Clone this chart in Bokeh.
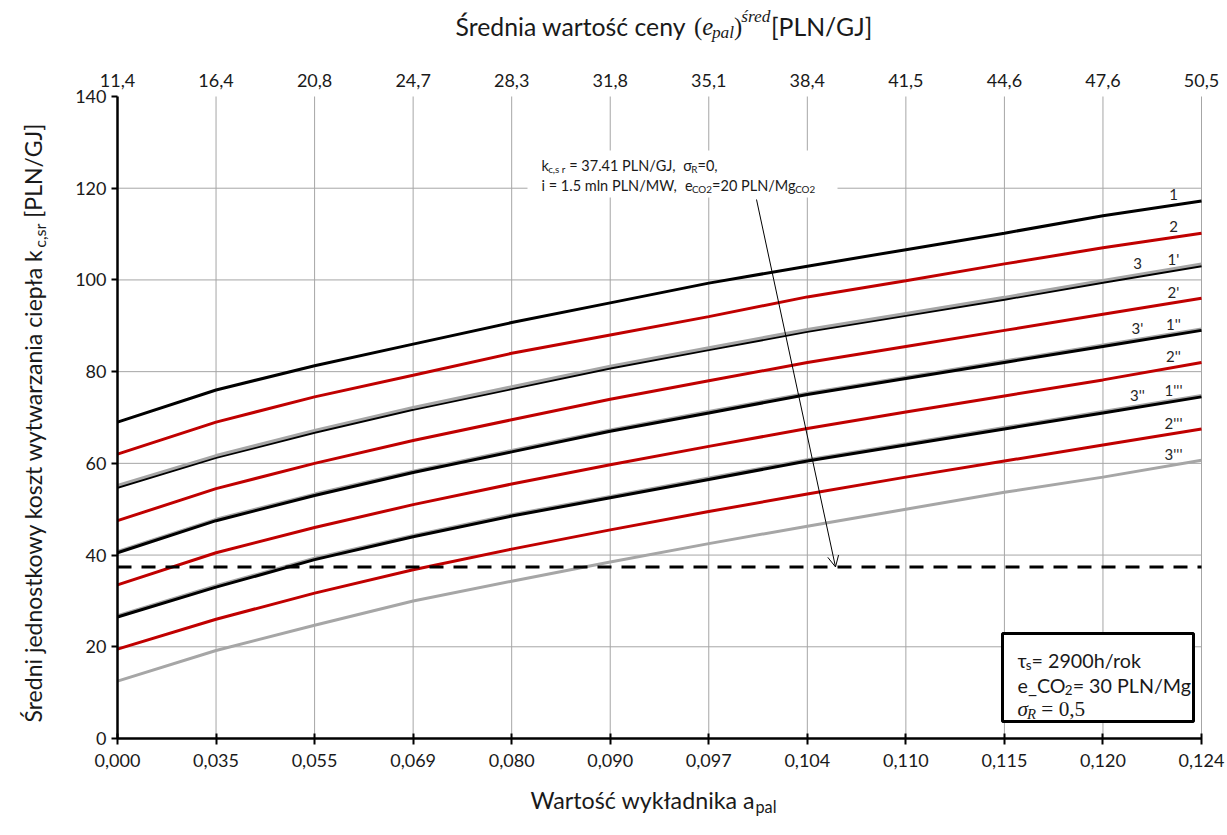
import math, os, struct, glob
from bokeh.plotting import figure
from bokeh.models import Range1d, LinearAxis, FixedTicker, Label, BoxAnnotation, Arrow, OpenHead
from bokeh.embed import file_html
from bokeh.resources import INLINE

# ---------------- data ----------------
a_pal_labels = ["0,000", "0,035", "0,055", "0,069", "0,080", "0,090",
                "0,097", "0,104", "0,110", "0,115", "0,120", "0,124"]
e_pal_labels = ["11,4", "16,4", "20,8", "24,7", "28,3", "31,8",
                "35,1", "38,4", "41,5", "44,6", "47,6", "50,5"]
y_ticks = [0, 20, 40, 60, 80, 100, 120, 140]

s1    = [69.0, 76.0, 81.3, 86.0, 90.7, 95.0, 99.3, 103.0, 106.6, 110.2, 114.0, 117.2]
s2    = [62.0, 69.0, 74.5, 79.2, 84.0, 88.0, 92.0, 96.3, 99.8, 103.5, 107.0, 110.2]
s3    = [55.2, 61.7, 67.2, 72.2, 76.7, 81.2, 85.2, 89.2, 92.7, 96.2, 99.9, 103.5]
s1p   = [54.8, 61.3, 66.8, 71.8, 76.3, 80.8, 84.8, 88.8, 92.3, 95.8, 99.5, 103.1]
s2p   = [47.5, 54.5, 60.0, 65.0, 69.5, 74.0, 78.0, 82.0, 85.5, 89.0, 92.5, 96.0]
s3p   = [40.8, 47.8, 53.3, 58.3, 62.8, 67.3, 71.3, 75.3, 78.8, 82.3, 85.8, 89.3]
s1pp  = [40.5, 47.5, 53.0, 58.0, 62.5, 67.0, 71.0, 75.0, 78.5, 82.0, 85.5, 89.0]
s2pp  = [33.5, 40.5, 46.0, 51.0, 55.5, 59.7, 63.7, 67.6, 71.2, 74.7, 78.2, 82.0]
s3pp  = [26.8, 33.3, 39.3, 44.3, 48.8, 52.8, 56.8, 60.8, 64.3, 67.8, 71.3, 74.8]
s1ppp = [26.5, 33.0, 39.0, 44.0, 48.5, 52.5, 56.5, 60.5, 64.0, 67.5, 71.0, 74.5]
s2ppp = [19.5, 26.0, 31.7, 36.8, 41.3, 45.5, 49.5, 53.3, 57.0, 60.5, 64.0, 67.5]
s3ppp = [12.5, 19.2, 24.7, 30.0, 34.3, 38.5, 42.5, 46.3, 50.0, 53.7, 57.0, 60.7]

k_ref = 37.41

BLACK, RED, GRAY = "#000000", "#c00000", "#a6a6a6"
# (label, values, colour, label column: "r" right, "l" left)
series = [
    ("1", s1, BLACK, "r"),
    ("2", s2, RED, "r"),
    ("1'", s1p, BLACK, "r"),
    ("3", s3, GRAY, "l"),
    ("2'", s2p, RED, "r"),
    ("3'", s3p, GRAY, "l"),
    ("1''", s1pp, BLACK, "r"),
    ("2''", s2pp, RED, "r"),
    ("3''", s3pp, GRAY, "l"),
    ("1'''", s1ppp, BLACK, "r"),
    ("2'''", s2ppp, RED, "r"),
    ("3'''", s3ppp, GRAY, "r"),
]

# ---------------- font metrics (for placing sub/superscripts) ----------------
FONT = "Lato"
SERIF = "Liberation Serif"
TXT = "#1a1a1a"

_files = {}
for d in ["/usr/share/fonts", "/usr/local/share/fonts",
          os.path.expanduser("~/.fonts"), os.path.expanduser("~/.local/share/fonts")]:
    for path in glob.glob(os.path.join(d, "**", "*"), recursive=True):
        b = os.path.basename(path).lower()
        if b.endswith((".ttf", ".otf")):
            _files.setdefault(b, path)

FONT_FILES = {
    ("Lato", "normal"): ["lato-regular.ttf"],
    ("Lato", "italic"): ["lato-italic.ttf"],
    ("Liberation Serif", "normal"): ["liberationserif-regular.ttf"],
    ("Liberation Serif", "italic"): ["liberationserif-italic.ttf"],
    ("DejaVu Sans", "normal"): ["dejavusans.ttf"],
}

class TTF:
    def __init__(self, path):
        self.d = d = open(path, "rb").read()
        nt = struct.unpack(">H", d[4:6])[0]
        t = {}
        for i in range(nt):
            tag, cs, off, ln = struct.unpack(">4sIII", d[12 + 16 * i:28 + 16 * i])
            t[tag.decode("latin1")] = off
        self.upem = struct.unpack(">H", d[t["head"] + 18:t["head"] + 20])[0]
        nhm = struct.unpack(">H", d[t["hhea"] + 34:t["hhea"] + 36])[0]
        hm = t["hmtx"]
        self.adv = [struct.unpack(">H", d[hm + 4 * i:hm + 4 * i + 2])[0] for i in range(nhm)]
        co = t["cmap"]
        n = struct.unpack(">H", d[co + 2:co + 4])[0]
        self.sub = None
        for i in range(n):
            pid, eid, off = struct.unpack(">HHI", d[co + 4 + 8 * i:co + 12 + 8 * i])
            fmt = struct.unpack(">H", d[co + off:co + off + 2])[0]
            if fmt == 4 and (pid == 0 or (pid == 3 and eid == 1)):
                self.sub = co + off
                break
        o = self.sub
        seg2 = struct.unpack(">H", d[o + 6:o + 8])[0]
        seg = seg2 // 2
        self.seg = seg
        self.ends = struct.unpack(f">{seg}H", d[o + 14:o + 14 + seg2])
        self.starts = struct.unpack(f">{seg}H", d[o + 16 + seg2:o + 16 + 2 * seg2])
        self.deltas = struct.unpack(f">{seg}h", d[o + 16 + 2 * seg2:o + 16 + 3 * seg2])
        self.rpos = o + 16 + 3 * seg2
        self.roffs = struct.unpack(f">{seg}H", d[self.rpos:self.rpos + seg2])

    def glyph(self, c):
        for s in range(self.seg):
            if self.ends[s] >= c:
                if self.starts[s] > c:
                    return 0
                if self.roffs[s] == 0:
                    return (c + self.deltas[s]) & 0xFFFF
                addr = self.rpos + 2 * s + self.roffs[s] + 2 * (c - self.starts[s])
                g = struct.unpack(">H", self.d[addr:addr + 2])[0]
                return (g + self.deltas[s]) & 0xFFFF if g else 0
        return 0

    def advance(self, ch):
        g = self.glyph(ord(ch))
        if g == 0:
            return None
        return self.adv[min(g, len(self.adv) - 1)] / self.upem

_cache = {}
def get_font(font, style):
    key = (font, style)
    if key not in _cache:
        f = None
        for name in FONT_FILES.get(key, []):
            if name in _files:
                try:
                    f = TTF(_files[name])
                except Exception:
                    f = None
                break
        _cache[key] = f
    return _cache[key]

def char_w(ch, font, style):
    for key in [(font, style), (font, "normal"), ("DejaVu Sans", "normal")]:
        f = get_font(*key)
        if f is not None:
            a = f.advance(ch)
            if a is not None:
                return a
    if ch == " ":
        return 0.25
    return 0.55

def measure(text, font, style, size):
    return sum(char_w(c, font, style) for c in text) * size

TIGHT = 0.05   # pull sub/superscripts slightly towards their base letter (em of base size)

def run(pieces, size):
    """pieces: (text, rel_size, drop_em, font, style) -> placed pieces, total width"""
    out, off = [], 0.0
    for t, rel, drop, font, style in pieces:
        s = size * rel
        if drop != 0:
            off -= TIGHT * size
        sp = measure(" ", font, style, s)
        lead = len(t) - len(t.lstrip(" "))
        trail = len(t) - len(t.rstrip(" "))
        core = t.strip(" ")
        off += lead * sp
        out.append((core, off, s, drop * size, font, style))
        off += measure(core, font, style, s) + trail * sp
    return out, off

def fit(pieces, width):
    _, w1 = run(pieces, 1.0)
    return width / w1

# ---------------- layout ----------------
W, H = 1227, 835
BL, BR, BT, BB = 117, 26, 96, 97          # data area inside the canvas
FW, FH = W - BL - BR, H - BT - BB
n = len(a_pal_labels)
xmax = n - 1
YMAX = y_ticks[-1]

def X(px):
    return (px - BL) / FW * xmax

def Y(py):
    return (H - BB - py) / FH * YMAX

p = figure(width=W, height=H, output_backend="svg", toolbar_location=None,
           x_range=Range1d(X(0), X(W)), y_range=Range1d(Y(H), Y(0)),
           x_axis_type=None, y_axis_type=None, min_border=0)
p.outline_line_color = None
p.background_fill_color = "white"
p.border_fill_color = "white"

xt = list(range(n))

# grid lines (from the tick arrays)
gy = [t for t in y_ticks if 0 < t < YMAX]
p.segment(x0=xt[1:], y0=[y_ticks[0]] * (n - 1), x1=xt[1:], y1=[YMAX] * (n - 1),
          line_color="#a6a6a6", line_width=1)
p.segment(x0=[xt[0]] * len(gy), y0=gy, x1=[xt[-1]] * len(gy), y1=gy,
          line_color="#a6a6a6", line_width=1)

def style_axis(ax):
    ax.axis_line_color = "black"
    ax.axis_line_width = 2.5
    ax.major_tick_line_color = "black"
    ax.major_tick_line_width = 2
    ax.minor_tick_line_color = None
    ax.major_label_text_font = FONT
    ax.major_label_text_font_size = "18px"
    ax.major_label_text_color = TXT

bottom = LinearAxis(fixed_location=y_ticks[0], bounds=(xt[0], xt[-1]),
                    ticker=FixedTicker(ticks=xt),
                    major_label_overrides={i: a_pal_labels[i] for i in xt})
style_axis(bottom)
bottom.major_tick_in = 5
bottom.major_tick_out = 6
bottom.major_label_standoff = 9
p.add_layout(bottom, "below")

left = LinearAxis(fixed_location=xt[0], bounds=(y_ticks[0], YMAX),
                  ticker=FixedTicker(ticks=y_ticks))
style_axis(left)
left.major_tick_in = 0
left.major_tick_out = 6
left.major_label_standoff = 5
p.add_layout(left, "left")

top = LinearAxis(fixed_location=YMAX, bounds=(xt[0], xt[-1]),
                 ticker=FixedTicker(ticks=xt),
                 major_label_overrides={i: e_pal_labels[i] for i in xt})
style_axis(top)
top.axis_line_color = None
top.major_tick_line_color = None
top.major_tick_in = 0
top.major_tick_out = 0
top.major_label_standoff = 10
p.add_layout(top, "above")

# ---------------- lines ----------------
for name, vals, col, side in series:
    p.line(xt, vals, line_color=col, line_width=3)

p.line([xt[0], xt[-1]], [k_ref, k_ref], line_color="black", line_width=3, line_dash="14 10")

def interp(vals, x):
    i = min(int(math.floor(x)), len(vals) - 2)
    t = x - i
    return vals[i] * (1 - t) + vals[i + 1] * t

lab_x = {"r": X(1173), "l": X(1137)}
for name, vals, col, side in series:
    lx = lab_x[side]
    p.add_layout(Label(x=lx, y=interp(vals, lx), y_offset=11, text=name,
                       text_font=FONT, text_font_size="15px", text_color="#262626",
                       text_align="center", text_baseline="middle"))

# ---------------- rich text placement ----------------
BASE_K = 0.25   # alphabetic baseline sits this many em below the visual middle

def draw(pieces, size, start, mid, vertical=False, color=TXT):
    """start: left px (or bottom px for vertical); mid: centre line px of the text"""
    placed, total = run(pieces, size)
    base = mid + BASE_K * size
    for core, off, s, drop, font, style in placed:
        if not core:
            continue
        if vertical:
            px, py, ang = base + drop, start - off, math.pi / 2
        else:
            px, py, ang = start + off, base + drop, 0.0
        p.add_layout(Label(x=X(px), y=Y(py), text=core, text_font=font,
                           text_font_size=f"{s:.2f}px", text_font_style=style,
                           text_color=color, text_align="left",
                           text_baseline="alphabetic", angle=ang))
    return total

SUB, SUP = 0.25, -0.42

# top title
top_title = [("Średnia wartość ceny ", 1, 0, FONT, "normal"),
             ("(", 1, 0, SERIF, "normal"),
             ("e", 1, 0, SERIF, "italic"),
             ("pal", 0.7, SUB, SERIF, "italic"),
             (")", 1, 0, SERIF, "normal"),
             ("śred", 0.7, SUP, SERIF, "italic"),
             ("[PLN/GJ]", 1, 0, FONT, "normal")]
sz = fit(top_title, 872 - 455)
draw(top_title, sz, 455, 20)

# bottom title
x_title = [("Wartość wykładnika a", 1, 0, FONT, "normal"),
           ("pal", 0.7, SUB, FONT, "normal")]
sz = fit(x_title, 776 - 530)
draw(x_title, sz, 530, 794)

# left title (rotated, reads upwards)
y_title = [("Średni jednostkowy koszt wytwarzania ciepła k", 1, 0, FONT, "normal"),
           ("c,sr", 0.7, SUB, FONT, "normal"),
           (" [PLN/GJ]", 1, 0, FONT, "normal")]
sz = fit(y_title, 722 - 123)
draw(y_title, sz, 722, 27, vertical=True)

# ---------------- annotation with arrow ----------------
p.add_layout(Arrow(x_start=X(756), y_start=Y(199), x_end=X(835), y_end=k_ref,
                   line_color="black", line_width=1,
                   end=OpenHead(size=11, line_width=1, line_color="black")))
p.add_layout(BoxAnnotation(left=X(527), right=X(837), top=Y(150), bottom=Y(197),
                           fill_color="white", fill_alpha=1.0, line_alpha=0))
ann1 = [("k", 1, 0, FONT, "normal"),
        ("c,s r", 0.68, SUB, FONT, "normal"),
        (" = 37.41 PLN/GJ, ", 1, 0, FONT, "normal"),
        (" σ", 1, 0, FONT, "normal"),
        ("R", 0.68, SUB, FONT, "normal"),
        ("=0,", 1, 0, FONT, "normal")]
ann2 = [("i = 1.5 mln PLN/MW, ", 1, 0, FONT, "normal"),
        (" e", 1, 0, FONT, "normal"),
        ("CO2", 0.68, SUB, FONT, "normal"),
        ("=20 PLN/Mg", 1, 0, FONT, "normal"),
        ("CO2", 0.68, SUB, FONT, "normal")]
sz = 0.5 * (fit(ann1, 717 - 541) + fit(ann2, 815 - 541))
draw(ann1, sz, 541, 161)
draw(ann2, sz, 541, 181)

# ---------------- parameter box ----------------
p.add_layout(BoxAnnotation(left=X(1002), right=X(1193), top=Y(633), bottom=Y(721),
                           fill_color="white", fill_alpha=1.0,
                           line_color="black", line_alpha=1.0, line_width=3))
leg1 = [("τ", 1, 0, FONT, "normal"), ("s", 0.68, SUB, FONT, "normal"),
        ("= 2900h/rok", 1, 0, FONT, "normal")]
leg2 = [("e_CO", 1, 0, FONT, "normal"), ("2", 0.68, SUB, FONT, "normal"),
        ("= 30 PLN/Mg", 1, 0, FONT, "normal")]
leg3 = [("σ", 1.08, 0, SERIF, "italic"), ("R", 0.75, SUB, SERIF, "italic"),
        (" = 0,5", 1.08, 0, SERIF, "normal")]
sz = 0.5 * (fit(leg1, 1147 - 1017) + fit(leg2, 1183 - 1017))
draw(leg1, sz, 1017, 655)
draw(leg2, sz, 1017, 680)
draw(leg3, sz, 1017, 704)

open("out.html", "w").write(file_html(p, INLINE))
